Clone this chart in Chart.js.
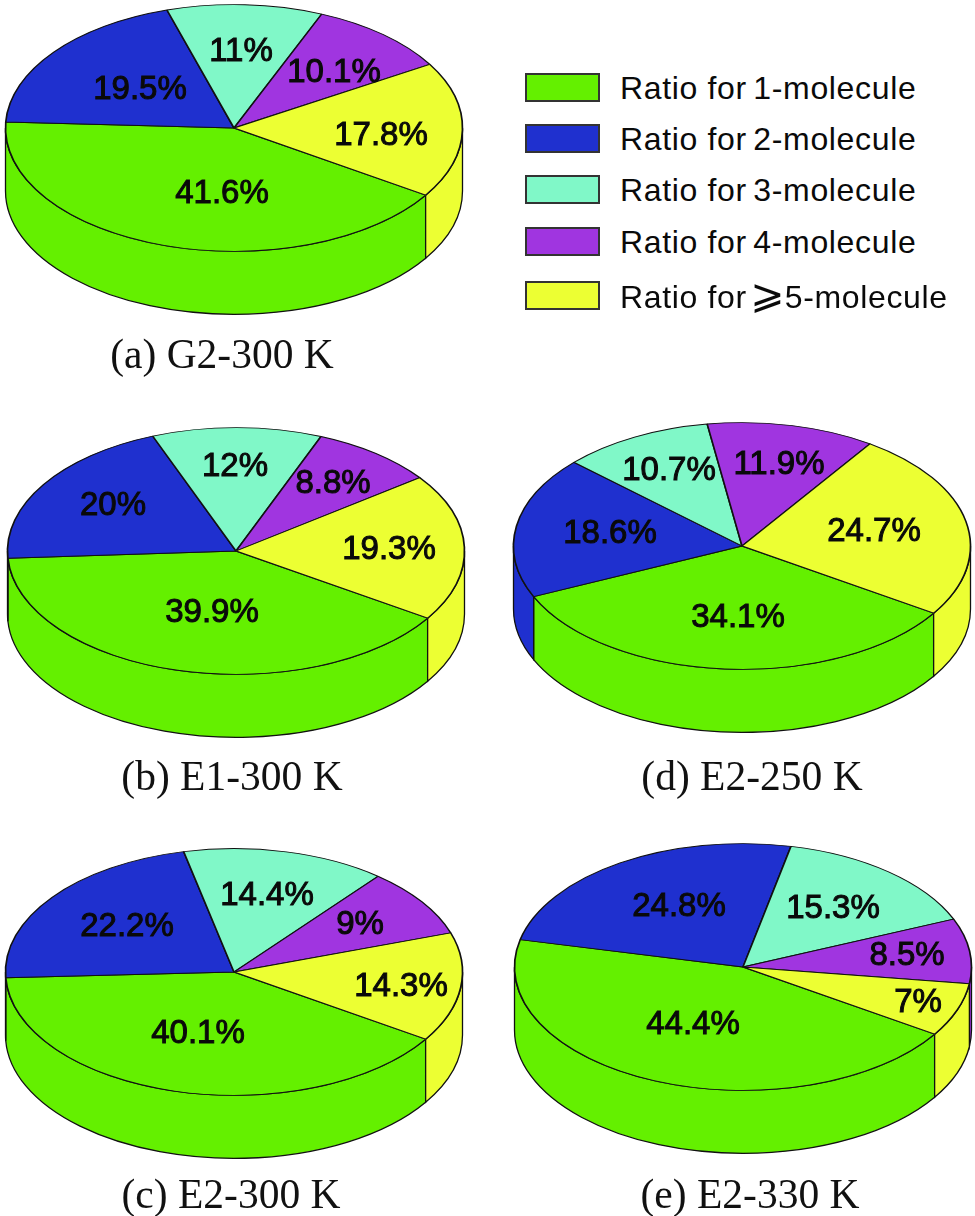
<!DOCTYPE html>
<html>
<head>
<meta charset="utf-8">
<title>Molecule ratios</title>
<script src="https://cdn.jsdelivr.net/npm/chart.js@4"></script>
<style>
  html, body { margin: 0; padding: 0; background: #fff; }
  #page { position: relative; width: 975px; height: 1216px; overflow: hidden; }
  canvas { position: absolute; }
  .caption {
    position: absolute; transform: translateX(-50%); white-space: nowrap; line-height: 44px;
    font-family: "Liberation Serif", serif; font-size: 41.5px; color: #111;
  }
  .swatch { position: absolute; left: 525px; width: 71px; height: 25px; border: 2px solid #333; box-sizing: content-box; }
  .legend-text {
    position: absolute; left: 620px; white-space: nowrap; line-height: 34px; color: #0a0a0a;
    font-family: "Liberation Sans", Arial, sans-serif; font-size: 32px; letter-spacing: 0.65px;
  }
  .legend-text .head { margin-right: -3px; }
  .legend-text .geq { font-family: "DejaVu Sans", sans-serif; font-size: 41px; line-height: 30px; letter-spacing: 0; margin-left: -3px; }
</style>
</head>
<body>
<div id="page"></div>
<script>
const categories = ['1-molecule', '2-molecule', '3-molecule', '4-molecule', '5-molecule'];
const legendHead = 'Ratio for ';
const legendTails = ['1-molecule', '2-molecule', '3-molecule', '4-molecule', '\u2A7E5-molecule'];

const valuesG2300 = [41.6, 19.5, 11, 10.1, 17.8];
const valuesE1300 = [39.9, 20, 12, 8.8, 19.3];
const valuesE2300 = [40.1, 22.2, 14.4, 9, 14.3];
const valuesE2250 = [34.1, 18.6, 10.7, 11.9, 24.7];
const valuesE2330 = [44.4, 24.8, 15.3, 8.5, 7];

const colors = ['#64f000', '#1f30cf', '#80f8c8', '#a035e0', '#ecff33'];

const tilt = 0.54;      // squash of the disc
const wallDepth = 63;
const discRadius = 228.5;
const canvasSize = 480;

// layout of each pie, label offsets are from the pie centre
const pies = [
  { values: valuesG2300, caption: '(a) G2-300 K', cx: 234, cy: 128, capX: 222, capBase: 364,
    labelOffsets: [[-12, 64], [-94, -40], [7, -78], [100, -57], [147, 6]] },
  { values: valuesE1300, caption: '(b) E1-300 K', cx: 236, cy: 551, capX: 232, capBase: 786,
    labelOffsets: [[-24, 60], [-123, -47], [-1, -86], [97, -69], [153, -3]] },
  { values: valuesE2300, caption: '(c) E2-300 K', cx: 234, cy: 972, capX: 231, capBase: 1204,
    labelOffsets: [[-36, 60], [-107, -47], [33, -78], [126, -49], [167, 13]] },
  { values: valuesE2250, caption: '(d) E2-250 K', cx: 742, cy: 546, capX: 752, capBase: 786,
    labelOffsets: [[-4, 70], [-132, -14], [-73, -77], [37, -83], [132, -16]] },
  { values: valuesE2330, caption: '(e) E2-330 K', cx: 743, cy: 967, capX: 750, capBase: 1204,
    labelOffsets: [[-50, 56], [-64, -62], [90, -60], [164, -13], [175, 34]] }
];

const wallPlugin = {
  id: 'discWalls',
  beforeDatasetsDraw(chart) {
    const ctx = chart.ctx;
    const arcs = chart.getDatasetMeta(0).data;
    ctx.save();
    ctx.lineWidth = 1.3;
    ctx.strokeStyle = '#111';
    arcs.forEach((arc, i) => {
      const { x, y, startAngle, endAngle, outerRadius } = arc.getProps(['x', 'y', 'startAngle', 'endAngle', 'outerRadius'], true);
      // only the front half of the rim can be seen
      [-2, 0, 2].forEach(turn => {
        const from = Math.max(startAngle, turn * Math.PI);
        const to = Math.min(endAngle, (turn + 1) * Math.PI);
        if (to <= from) return;
        ctx.beginPath();
        ctx.ellipse(x, y, outerRadius, outerRadius * tilt, 0, from, to);
        ctx.ellipse(x, y + wallDepth, outerRadius, outerRadius * tilt, 0, to, from, true);
        ctx.closePath();
        ctx.fillStyle = colors[i];
        ctx.fill();
        ctx.stroke();
      });
    });
    ctx.restore();
    // squash the pie itself around its centre
    const c = arcs[0];
    ctx.save();
    ctx.translate(c.x, c.y);
    ctx.scale(1, tilt);
    ctx.translate(-c.x, -c.y);
  },
  afterDatasetsDraw(chart, args, opts) {
    const ctx = chart.ctx;
    ctx.restore();
    const c = chart.getDatasetMeta(0).data[0];
    const values = chart.data.datasets[0].data;
    ctx.save();
    ctx.font = '33px "Liberation Sans", Arial, sans-serif';
    ctx.textAlign = 'center';
    ctx.textBaseline = 'middle';
    ctx.fillStyle = '#0a0a0a';
    ctx.strokeStyle = '#0a0a0a';
    ctx.lineWidth = 1;
    values.forEach((v, i) => {
      const [dx, dy] = opts.offsets[i];
      ctx.fillText(v + '%', c.x + dx, c.y + dy + 1.5);
      ctx.strokeText(v + '%', c.x + dx, c.y + dy + 1.5);
    });
    ctx.restore();
  }
};

const page = document.getElementById('page');

pies.forEach(p => {
  const canvas = document.createElement('canvas');
  canvas.width = canvasSize;
  canvas.height = canvasSize;
  canvas.style.left = (p.cx - canvasSize / 2) + 'px';
  canvas.style.top = (p.cy - canvasSize / 2) + 'px';
  page.appendChild(canvas);

  new Chart(canvas, {
    type: 'pie',
    data: {
      labels: categories,
      datasets: [{
        data: p.values,
        backgroundColor: colors,
        borderColor: '#111',
        borderWidth: 1.7,
        borderAlign: 'center'
      }]
    },
    options: {
      responsive: false,
      animation: false,
      rotation: 123,
      radius: discRadius,
      plugins: {
        legend: { display: false },
        tooltip: { enabled: false },
        discWalls: { offsets: p.labelOffsets }
      }
    },
    plugins: [wallPlugin]
  });

  const cap = document.createElement('div');
  cap.className = 'caption';
  cap.textContent = p.caption;
  cap.style.left = p.capX + 'px';
  cap.style.top = (p.capBase - 32) + 'px';
  page.appendChild(cap);
});

const legendTops = [73, 124, 175, 227, 281];
legendTails.forEach((tail, i) => {
  const box = document.createElement('div');
  box.className = 'swatch';
  box.style.top = legendTops[i] + 'px';
  box.style.background = colors[i];
  page.appendChild(box);

  const text = document.createElement('div');
  text.className = 'legend-text';
  text.style.top = (legendTops[i] - 2) + 'px';
  const head = document.createElement('span');
  head.className = 'head';
  head.textContent = legendHead;
  text.appendChild(head);
  if (tail[0] === '\u2A7E') {
    const geq = document.createElement('span');
    geq.className = 'geq';
    geq.textContent = tail[0];
    text.appendChild(geq);
    text.appendChild(document.createTextNode(tail.slice(1)));
  } else {
    text.appendChild(document.createTextNode(tail));
  }
  page.appendChild(text);
});
</script>
</body>
</html>
